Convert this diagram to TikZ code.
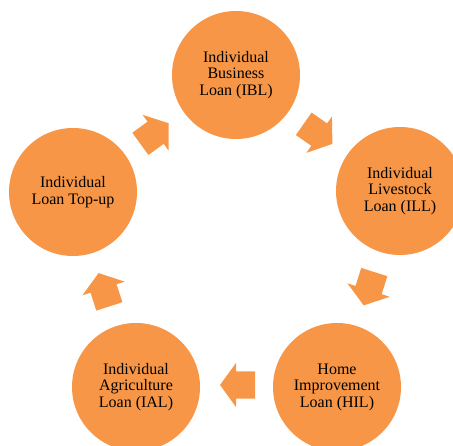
\documentclass[tikz,border=0pt]{standalone}
\usepackage{fontspec}
\setmainfont{Liberation Serif}
\usetikzlibrary{shapes.arrows,calc}
\definecolor{loanorange}{HTML}{F79646}
\begin{document}
\begin{tikzpicture}[x=1pt,y=-1pt,
  loan/.style={circle,fill=loanorange,draw=none,minimum size=128pt,inner sep=0pt,
    align=center,font=\fontsize{16pt}{16.5pt}\selectfont,text=black},
  flowarrow/.style={single arrow,fill=loanorange,draw=none,inner sep=0pt,
    text height=13.5pt,text depth=13.5pt,text width=0pt,
    minimum height=35pt,single arrow head extend=8.5pt,
    single arrow tip angle=108}]
\useasboundingbox (0,0) rectangle (453,446);
\clip (0,0) rectangle (453,446);
\node[loan] (ibl) at (236,75) {Individual\\Business\\Loan (IBL)};
\node[loan] (ill) at (400,191) {Individual\\Livestock\\Loan (ILL)};
\node[loan] (hil) at (337,387) {Home\\Improvement\\Loan (HIL)};
\node[loan] (ial) at (136,387) {Individual\\Agriculture\\Loan (IAL)};
\node[loan] (top) at (73,192) {Individual\\Loan Top-up};
\node[flowarrow,rotate=36] (a1) at ($(top)!0.5!(ibl)+(-4,3)$) {};
\node[flowarrow,rotate=-35] (a2) at ($(ibl)!0.5!(ill)+(-4,-2)$) {};
\node[flowarrow,rotate=-107.6] (a3) at ($(ill)!0.5!(hil)+(2,-5)$) {};
\node[flowarrow,rotate=180] (a4) at ($(hil)!0.5!(ial)+(6,-2)$) {};
\node[flowarrow,rotate=107.9] (a5) at ($(ial)!0.5!(top)+(1,5)$) {};
\end{tikzpicture}
\end{document}
